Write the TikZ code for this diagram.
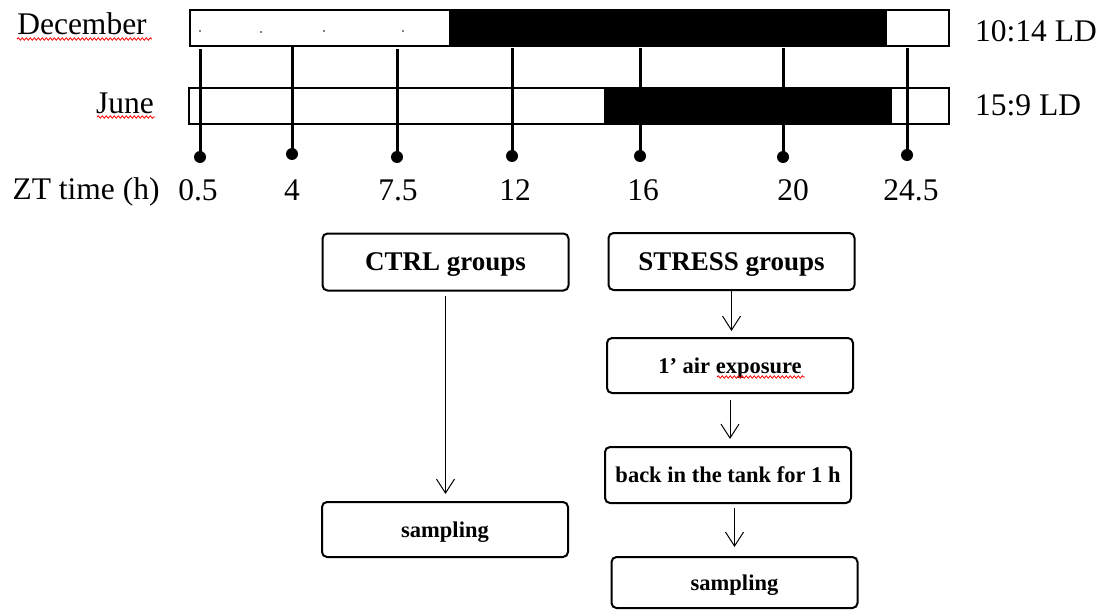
\documentclass[tikz,border=0pt]{standalone}
\usepackage{fontspec}
\setmainfont{Liberation Serif}
\usetikzlibrary{arrows.meta,decorations.pathmorphing}
\begin{document}
\begin{tikzpicture}[
        x=1pt,
        y=-1pt,
        font=\fontsize{31.5}{36}\selectfont
    ]
    \tikzset{
        mybox/.style = {rectangle, rounded corners=5pt, draw=black, line width=2pt, align=center, text depth=0pt, minimum width=246pt, minimum height=57pt, font=\fontsize{27}{30}\selectfont\bfseries},
        myboxs/.style = {mybox, font=\fontsize{22.5}{26}\selectfont\bfseries},
        mydot/.style = {circle, fill=black, inner sep=0pt, minimum size=12pt},
        mytext/.style = {anchor=base, inner sep=0pt},
        mybar/.style = {draw=black, line width=2pt},
        edges/.style = {-, line width=3pt},
        edgef/.style = {-{Straight Barb[length=14pt,width=18pt]}, line width=1pt},
        typo/.style = {red, line width=0.8pt, decorate, decoration={snake, amplitude=1.2pt, segment length=4pt}},
    }
    \useasboundingbox (0,0) rectangle (1103,610);
    % light/dark bars
    \fill[black] (449,10) rectangle (887,46);
    \draw[mybar] (190,10) rectangle (949,46);
    \fill[black] (604,88) rectangle (892,124);
    \draw[mybar] (189,88) rectangle (949,124);
    \fill (200,31) circle (0.8);
    \fill (261,32) circle (0.8);
    \fill (324,31) circle (0.8);
    \fill (403,31) circle (0.8);
    %
    \node[mytext] (dec) at (82,35) {December};
    \node[mytext] (jun) at (125,113) {June};
    \node[mytext, anchor=base west] (ld1) at (975,42) {10:14 LD};
    \node[mytext, anchor=base west] (ld2) at (975,115) {15:9 LD};
    \node[mytext] (zt) at (86,199) {ZT time (h)};
    \draw[typo] (17,39) -- (152,39);
    \draw[typo] (97,117) -- (155,117);
    % sampling times
    \coordinate (s1) at (200,49);
    \coordinate (s2) at (292,47);
    \coordinate (s3) at (397,49);
    \coordinate (s4) at (512,48);
    \coordinate (s5) at (640,48);
    \coordinate (s6) at (783,48);
    \coordinate (s7) at (907,48);
    \node[mydot] (d1) at (200,157) {};
    \node[mydot] (d2) at (292,154) {};
    \node[mydot] (d3) at (397,157) {};
    \node[mydot] (d4) at (512,156) {};
    \node[mydot] (d5) at (640,156) {};
    \node[mydot] (d6) at (783,157) {};
    \node[mydot] (d7) at (907,155) {};
    \draw[edges] (s1) -- (d1.center);
    \draw[edges] (s2) -- (d2.center);
    \draw[edges] (s3) -- (d3.center);
    \draw[edges] (s4) -- (d4.center);
    \draw[edges] (s5) -- (d5.center);
    \draw[edges] (s6) -- (d6.center);
    \draw[edges] (s7) -- (d7.center);
    \node[mytext] (t1) at (198,200) {0.5};
    \node[mytext] (t2) at (292,200) {4};
    \node[mytext] (t3) at (398,200) {7.5};
    \node[mytext] (t4) at (515,200) {12};
    \node[mytext] (t5) at (643,200) {16};
    \node[mytext] (t6) at (793,200) {20};
    \node[mytext] (t7) at (911,200) {24.5};
    % protocol
    \node[mybox] (ctrl) at (445.5,262) {CTRL groups};
    \node[mybox] (stress) at (731.5,261.5) {STRESS groups};
    \node[myboxs, minimum height=55pt] (air) at (730,365.5) {1’ air exposure};
    \node[myboxs, minimum height=56pt] (back) at (728,475) {back in the tank for 1 h};
    \node[myboxs, minimum height=55pt] (ctrlsamp) at (445,529.5) {sampling};
    \node[myboxs, minimum height=51pt] (stresssamp) at (734.5,582.5) {sampling};
    \draw[typo] (717,377) -- (805,377);
    %
    \draw[edgef, shorten <=4pt, shorten >=7pt] (ctrl.south) -- (ctrlsamp.north -| ctrl.south);
    \draw[edgef, shorten >=6pt] (stress.south) -- (stress.south |- air.north);
    \draw[edgef, shorten <=6pt, shorten >=7pt] (air.south) -- (air.south |- back.north);
    \draw[edgef, shorten <=4pt, shorten >=9pt] (stresssamp.north |- back.south) -- (stresssamp.north);
\end{tikzpicture}
\end{document}
